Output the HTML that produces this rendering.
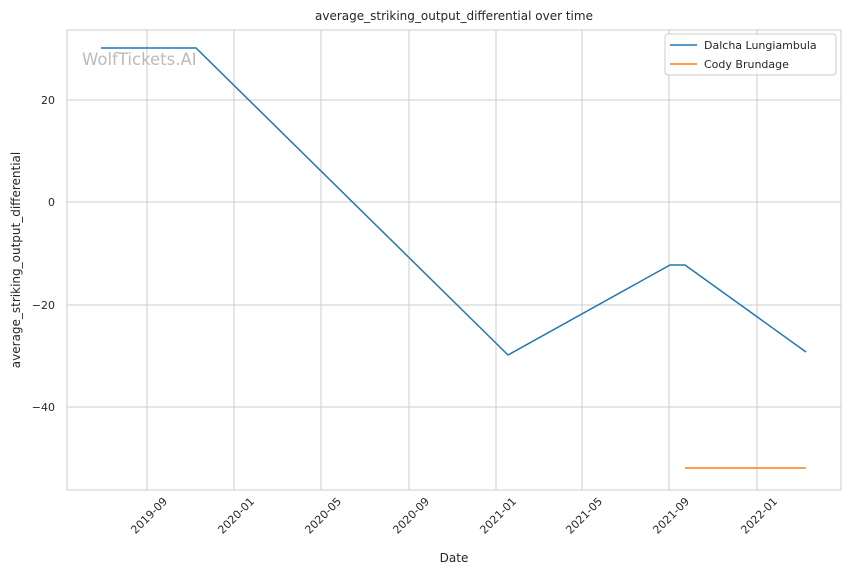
<!DOCTYPE html>
<html><head><meta charset="utf-8"><style>
body{margin:0;background:#fff;}
svg{font-family:"DejaVu Sans","Liberation Sans",sans-serif;}
</style></head><body>
<svg width="850" height="575" viewBox="0 0 850 575" xmlns="http://www.w3.org/2000/svg">
<rect width="850" height="575" fill="#fff"/>
<g stroke="#cccccc" stroke-width="1">
<line x1="147" y1="30" x2="147" y2="490"/>
<line x1="234" y1="30" x2="234" y2="490"/>
<line x1="321" y1="30" x2="321" y2="490"/>
<line x1="409" y1="30" x2="409" y2="490"/>
<line x1="496" y1="30" x2="496" y2="490"/>
<line x1="582" y1="30" x2="582" y2="490"/>
<line x1="669" y1="30" x2="669" y2="490"/>
<line x1="757" y1="30" x2="757" y2="490"/>
<line x1="67" y1="100" x2="841" y2="100"/>
<line x1="67" y1="202" x2="841" y2="202"/>
<line x1="67" y1="305" x2="841" y2="305"/>
<line x1="67" y1="407" x2="841" y2="407"/>
</g>
<rect x="67" y="30" width="774" height="460" fill="none" stroke="#cccccc" stroke-width="1"/>
<text x="82" y="65" font-size="16.5" fill="#bbbbbb">WolfTickets.AI</text>
<polyline points="101,48 196,48 508,355 670,265 685,265 806,352" fill="none" stroke="#1f77b4" stroke-width="1.5"/>
<line x1="685" y1="468" x2="806" y2="468" stroke="#ff7f0e" stroke-width="1.5"/>
<g font-size="11" fill="#262626" text-anchor="end">
<text x="55" y="104">20</text>
<text x="55" y="206">0</text>
<text x="55" y="309">−20</text>
<text x="55" y="411">−40</text>
</g>
<g font-size="11" fill="#262626" text-anchor="end">
<text transform="translate(168,502) rotate(-45)">2019-09</text>
<text transform="translate(255,502) rotate(-45)">2020-01</text>
<text transform="translate(342,502) rotate(-45)">2020-05</text>
<text transform="translate(430,502) rotate(-45)">2020-09</text>
<text transform="translate(517,502) rotate(-45)">2021-01</text>
<text transform="translate(603,502) rotate(-45)">2021-05</text>
<text transform="translate(690,502) rotate(-45)">2021-09</text>
<text transform="translate(778,502) rotate(-45)">2022-01</text>
</g>
<text x="454" y="562" font-size="12" fill="#262626" text-anchor="middle">Date</text>
<text transform="translate(20,260) rotate(-90)" font-size="12" fill="#262626" text-anchor="middle">average_striking_output_differential</text>
<text x="454" y="20" font-size="12" fill="#262626" text-anchor="middle">average_striking_output_differential over time</text>
<rect x="665" y="34" width="171" height="41" rx="3" fill="#fff" fill-opacity="0.8" stroke="#cccccc"/>
<line x1="670" y1="45" x2="697" y2="45" stroke="#1f77b4" stroke-width="1.5"/>
<line x1="670" y1="64" x2="697" y2="64" stroke="#ff7f0e" stroke-width="1.5"/>
<text x="704" y="49" font-size="11" fill="#262626">Dalcha Lungiambula</text>
<text x="704" y="68" font-size="11" fill="#262626">Cody Brundage</text>
</svg>
</body></html>
